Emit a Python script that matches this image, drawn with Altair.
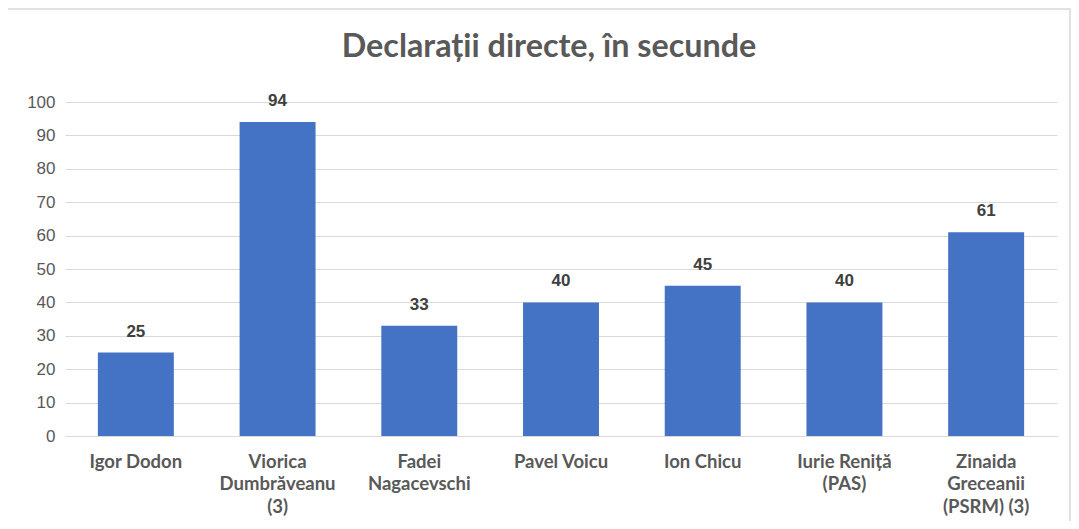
import altair as alt
import pandas as pd

names = ["Igor Dodon", "Viorica\nDumbrăveanu\n(3)", "Fadei\nNagacevschi", "Pavel Voicu",
         "Ion Chicu", "Iurie Reniță\n(PAS)", "Zinaida\nGreceanii\n(PSRM) (3)"]
seconds = [25, 94, 33, 40, 45, 40, 61]
y_ticks = [0, 10, 20, 30, 40, 50, 60, 70, 80, 90, 100]

df = pd.DataFrame({"name": names, "sec": seconds})

W, H = 992, 334

x = alt.X("name:N", sort=names, title=None,
          scale=alt.Scale(range=[-7, 985], paddingInner=0.464, paddingOuter=0.232),
          axis=alt.Axis(labelExpr="split(datum.label, '\\n')", labelAngle=0,
                        labelFont="Lato", labelFontWeight="bold", labelFontSize=18.5,
                        labelColor="#595959", labelPadding=16, labelLineHeight=22.5,
                        ticks=False, domain=True, domainColor="#d9d9d9", labelLimit=200))
y = alt.Y("sec:Q", title=None,
          scale=alt.Scale(domain=[0, 100]),
          axis=alt.Axis(values=y_ticks, labelFont="Liberation Sans", labelFontSize=17,
                        labelColor="#595959", labelPadding=17, ticks=False, domain=False,
                        labelOverlap=False,
                        grid=True, gridColor="#d9d9d9", gridWidth=1.2))

bars = alt.Chart(df).mark_bar(color="#4472C4").encode(x=x, y=y)
labels = alt.Chart(df).mark_text(baseline="bottom", dy=-12, font="Liberation Sans",
                                 fontWeight="bold", fontSize=17, color="#404040").encode(
    x=x, y=y, text="sec:Q")

border = alt.Chart(pd.DataFrame({"a": [0]})).mark_rect(
    fill=None, stroke="#d9d9d9", strokeWidth=1.5, clip=False).encode(
    x=alt.value(-66), x2=alt.value(W + 6), y=alt.value(-93), y2=alt.value(H + 110))

chart = alt.layer(border, bars, labels).properties(
    width=W, height=H,
    title=alt.TitleParams("Declarații directe, în secunde", font="Lato", fontSize=32.3,
                          fontWeight="bold", color="#595959", anchor="middle",
                          frame="group", offset=0, dy=55, dx=-19),
    autosize=alt.AutoSizeParams(type="none"),
    padding={"left": 64, "top": 94, "right": 7, "bottom": 85},
).configure_view(stroke=None)

chart.save("out.html", embed_options={"renderer": "svg", "actions": False})
